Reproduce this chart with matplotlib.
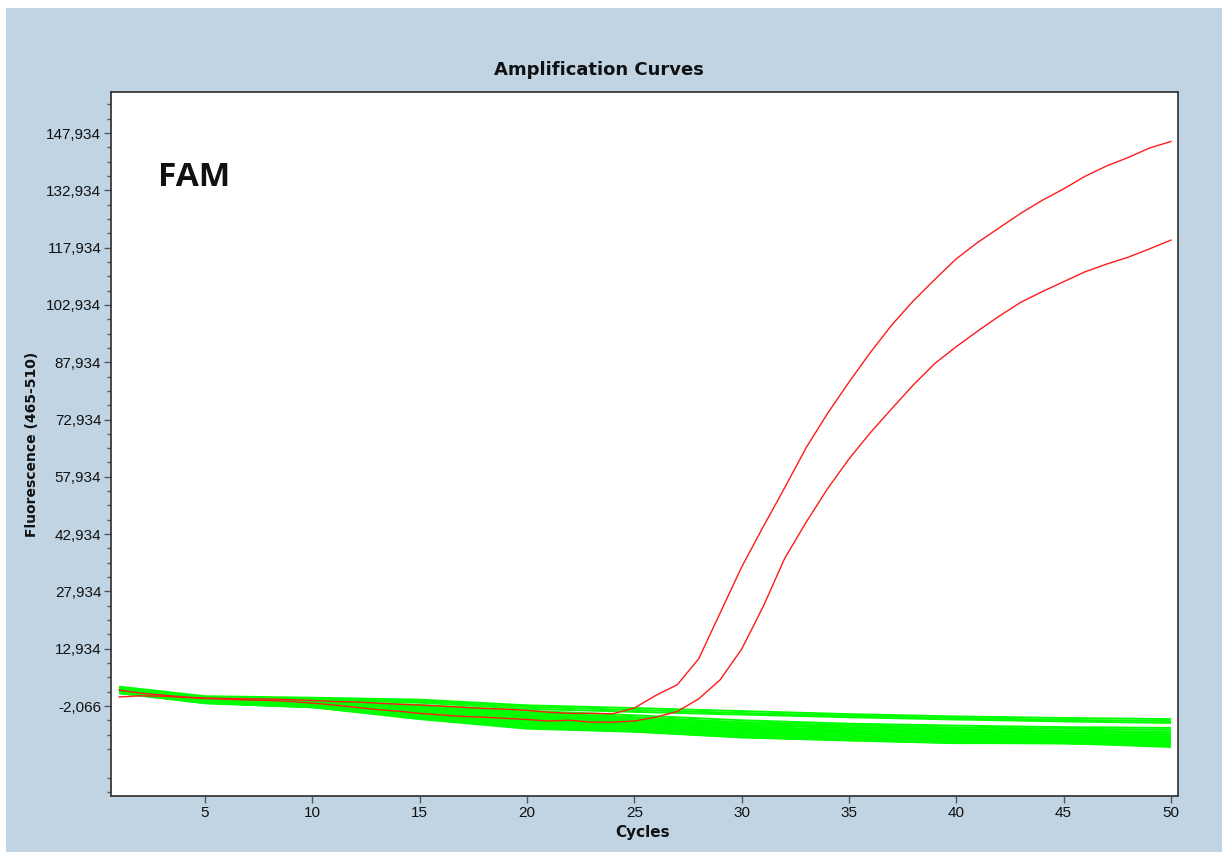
import matplotlib
matplotlib.use("Agg")
import matplotlib.pyplot as plt
from matplotlib.patches import Rectangle
from matplotlib.ticker import FixedLocator

# ---------------- data ----------------
cycles = list(range(1, 51))

red_upper = [2100, 1300, 800, 300, 0, -100, -200, -250, -400, -600,
             -900, -1000, -1300, -1600, -1800, -2100, -2400, -2700, -2900, -3200,
             -3700, -4000, -4000, -4100, -2600, 700, 3500, 10300, 22300, 34300,
             44800, 55000, 65500, 74500, 82700, 90500, 97700, 104000, 109600, 115000,
             119300, 123100, 126900, 130300, 133300, 136600, 139300, 141500, 144000, 145700]

red_lower = [300, 600, 500, 200, -100, -300, -500, -600, -900, -1300,
             -1800, -2400, -3000, -3400, -4000, -4400, -4800, -5000, -5300, -5600,
             -6000, -5800, -6300, -6300, -6000, -5000, -3500, -200, 4800, 12800,
             23900, 36500, 46000, 54800, 62600, 69500, 75800, 82000, 87600, 92000,
             96100, 100000, 103600, 106400, 109000, 111600, 113600, 115400, 117600, 119900]

green_cycles = [1, 5, 10, 15, 20, 25, 30, 35, 40, 45, 50]
green_curves = [
    [3000, 500, 100, -400, -1900, -2600, -3400, -4200, -4800, -5200, -5500],
    [2600, 300, -200, -800, -2300, -3100, -3900, -4600, -5200, -5700, -6000],
    [2300, 100, -400, -1200, -2800, -3600, -4300, -5000, -5600, -6100, -6500],
    [2800, 200, -600, -1800, -3300, -4500, -5800, -6700, -7200, -7600, -7800],
    [2500, 0, -800, -2100, -3700, -5000, -6300, -7100, -7700, -8000, -8300],
    [2200, -200, -1000, -2400, -4000, -5400, -6700, -7500, -8100, -8500, -8800],
    [2000, -300, -1200, -2700, -4400, -5800, -7000, -7900, -8500, -8900, -9200],
    [1900, -400, -1300, -2900, -4700, -6100, -7400, -8300, -8900, -9300, -9600],
    [1800, -500, -1500, -3100, -5000, -6400, -7700, -8600, -9200, -9700, -10000],
    [1700, -600, -1600, -3300, -5300, -6700, -8000, -8900, -9600, -10000, -10300],
    [1600, -700, -1800, -3600, -5600, -7000, -8300, -9200, -9900, -10300, -10600],
    [1500, -800, -1900, -3800, -5900, -7300, -8600, -9500, -10200, -10600, -10900],
    [1500, -900, -2000, -4000, -6200, -7600, -8900, -9900, -10500, -10900, -11200],
    [1400, -1000, -2100, -4300, -6600, -7900, -9200, -10200, -10800, -11200, -11500],
    [1400, -1100, -2200, -4600, -6900, -8200, -9500, -10500, -11100, -11500, -11800],
    [1300, -1200, -2300, -4900, -7300, -8500, -9900, -10800, -11400, -11700, -12100],
    [1300, -1300, -2400, -5200, -7700, -8700, -10200, -11000, -11700, -11900, -12400],
    [1350, -1350, -2400, -5500, -8000, -8800, -10300, -11100, -11800, -11750, -12800],
]

y_ticks = [-2066, 12934, 27934, 42934, 57934, 72934, 87934, 102934, 117934, 132934, 147934]
y_tick_labels = ["-2,066", "12,934", "27,934", "42,934", "57,934", "72,934",
                 "87,934", "102,934", "117,934", "132,934", "147,934"]
x_ticks = [5, 10, 15, 20, 25, 30, 35, 40, 45, 50]

# ---------------- figure ----------------
W, H = 1222, 852
fig = plt.figure(figsize=(W / 100, H / 100), dpi=100, facecolor="white")
bg = Rectangle((6 / W, 0), (W - 6) / W, (H - 8) / H, transform=fig.transFigure,
               facecolor="#c1d4e4", edgecolor="none", zorder=-10)
fig.patches.append(bg)

ax = fig.add_axes([111 / W, (H - 796) / H, (1178 - 111) / W, (796 - 92) / H])
ax.set_facecolor("white")

for g in green_curves:
    ax.plot(green_cycles, g, color="#00ff00", lw=1.4, solid_capstyle="butt", zorder=2)

ax.plot(cycles, red_lower, color="#ff1a1a", lw=1.0, zorder=3)
ax.plot(cycles, red_upper, color="#ff1a1a", lw=1.0, zorder=3)

ax.set_xlim(0.62, 50.33)
ax.set_ylim(-25626, 158667)

ax.xaxis.set_major_locator(FixedLocator(x_ticks))
ax.yaxis.set_major_locator(FixedLocator(y_ticks))
ax.set_yticklabels(y_tick_labels)
ax.yaxis.set_minor_locator(FixedLocator([-2066 + 3750 * k for k in range(-6, 44) if k % 4 != 0]))

for sp in ax.spines.values():
    sp.set_color("#3a3a3a")
    sp.set_linewidth(1.3)

ax.tick_params(axis="both", which="major", direction="out", length=5, width=1,
               color="#555555", labelsize=11, labelcolor="#111111", pad=2)
ax.tick_params(axis="y", which="minor", direction="out", length=3, width=1, color="#555555")
for lab in ax.get_xticklabels() + ax.get_yticklabels():
    lab.set_family("Liberation Sans")

fig.text(599 / W, 1 - 70 / H, "Amplification Curves", ha="center", va="center",
         fontsize=13, fontweight="bold", family="DejaVu Sans", color="#111111")
fig.text(643 / W, 1 - 832 / H, "Cycles", ha="center", va="center",
         fontsize=11, fontweight="bold", family="DejaVu Sans", color="#111111")
fig.text(32 / W, 1 - 444 / H, "Fluorescence (465-510)", ha="center", va="center",
         rotation=90, fontsize=10, fontweight="bold", family="DejaVu Sans", color="#111111")

fig.text(158 / W, 1 - 178 / H, "FAM", ha="left", va="center",
         fontsize=24, fontweight="bold", family="Open Sans", color="#111111")

fig.savefig("out.png", dpi=100, facecolor=fig.get_facecolor())
